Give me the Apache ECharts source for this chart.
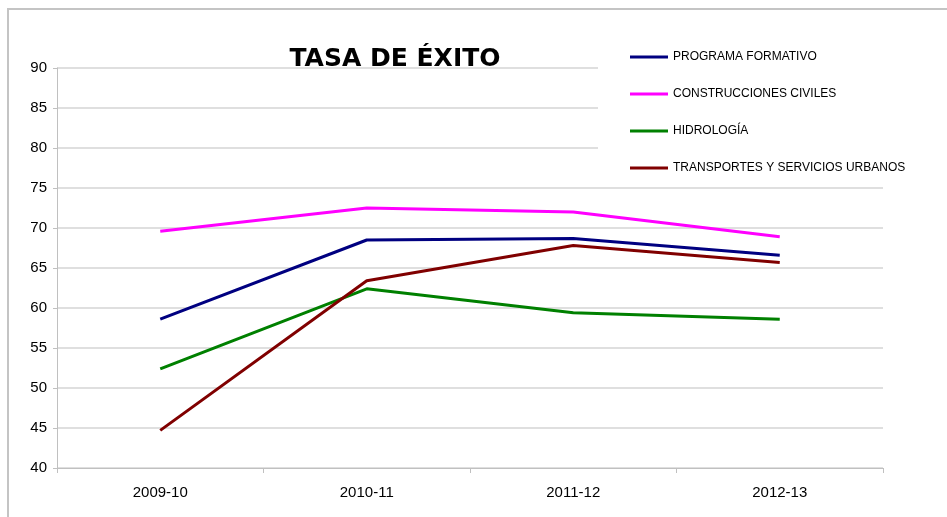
<!DOCTYPE html>
<html>
<head>
<meta charset="utf-8">
<script src="https://cdn.jsdelivr.net/npm/echarts@6/dist/echarts.min.js"></script>
<style>
  html, body { margin: 0; padding: 0; background: #fff; }
  #chart { width: 947px; height: 517px; }
</style>
</head>
<body>
<div id="chart"></div>
<script>
// Academic years on the horizontal axis
const courses = ['2009-10', '2010-11', '2011-12', '2012-13'];

// Success rate (%) per programme
const programaFormativo = [58.6, 68.5, 68.7, 66.6];
const construccionesCiviles = [69.6, 72.5, 72.0, 68.9];
const hidrologia = [52.4, 62.4, 59.4, 58.6];
const transportes = [44.7, 63.4, 67.8, 65.7];

const seriesNames = [
  'PROGRAMA FORMATIVO',
  'CONSTRUCCIONES CIVILES',
  'HIDROLOGÍA',
  'TRANSPORTES Y SERVICIOS URBANOS'
];
const seriesValues = [programaFormativo, construccionesCiviles, hidrologia, transportes];
const seriesColors = ['#000080', '#ff00ff', '#008000', '#800000'];

const font = 'Liberation Sans, Arial, sans-serif';

const chart = echarts.init(document.getElementById('chart'), null, { renderer: 'canvas' });

chart.setOption({
  animation: false,
  backgroundColor: '#ffffff',
  title: {
    text: 'TASA DE ÉXITO',
    left: 390,
    textAlign: 'center',
    top: 42,
    textStyle: { fontFamily: 'DejaVu Sans, sans-serif', fontSize: 25, fontWeight: 'bold', color: '#000' }
  },
  graphic: [
    {
      // outer chart frame
      type: 'rect',
      z: 0,
      silent: true,
      shape: { x: 8, y: 9, width: 960, height: 540 },
      style: { fill: null, stroke: '#c4c4c4', lineWidth: 2 }
    },
    {
      // white backdrop behind the legend
      type: 'rect',
      z: 3,
      silent: true,
      shape: { x: 598, y: 38, width: 285, height: 147 },
      style: { fill: '#ffffff' }
    }
  ],
  legend: {
    orient: 'vertical',
    left: 625,
    top: 46,
    itemWidth: 38,
    itemHeight: 3,
    itemGap: 25,
    icon: 'rect',
    z: 5,
    textStyle: { fontFamily: font, fontSize: 12, color: '#000' },
    data: seriesNames
  },
  grid: { left: 57, right: 64, top: 68, bottom: 49, containLabel: false },
  xAxis: {
    type: 'category',
    data: courses,
    boundaryGap: true,
    axisLine: { lineStyle: { color: '#c0c0c0', width: 1 } },
    axisTick: { show: true, length: 5, lineStyle: { color: '#c0c0c0' } },
    axisLabel: { fontFamily: font, fontSize: 15, color: '#000', margin: 17 },
    splitLine: { show: false }
  },
  yAxis: {
    type: 'value',
    min: 40,
    max: 90,
    interval: 5,
    axisLine: { show: true, lineStyle: { color: '#c0c0c0', width: 1 } },
    axisTick: { show: true, length: 4, lineStyle: { color: '#c0c0c0' } },
    axisLabel: { fontFamily: font, fontSize: 15, color: '#000', margin: 10 },
    splitLine: { show: true, lineStyle: { color: '#d4d4d4', width: 1.5 } }
  },
  series: seriesNames.map((name, i) => ({
    name: name,
    type: 'line',
    data: seriesValues[i],
    symbol: 'none',
    z: 2,
    lineStyle: { color: seriesColors[i], width: 3 },
    itemStyle: { color: seriesColors[i] }
  }))
});
</script>
</body>
</html>
